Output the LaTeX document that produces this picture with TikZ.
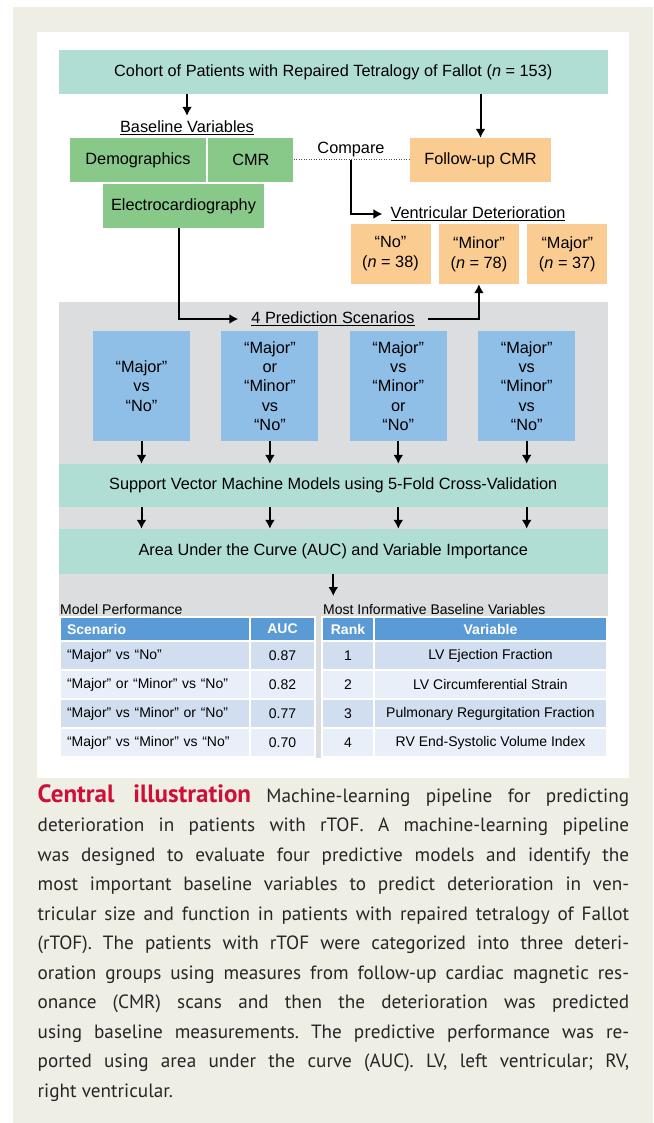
\documentclass[tikz,border=0pt]{standalone}
\usepackage{fontspec}
\setmainfont{Liberation Sans}
\newfontfamily\illfont{PT Sans}
\usepackage{xcolor}
\usetikzlibrary{arrows}
\usetikzlibrary{arrows.meta}
\usetikzlibrary{positioning}
\definecolor{pagebeige}{RGB}{239,238,228}
\definecolor{tealbox}{RGB}{176,222,212}
\definecolor{greenbox}{RGB}{136,201,138}
\definecolor{orangebox}{RGB}{251,204,145}
\definecolor{scengray}{RGB}{220,221,223}
\definecolor{bluebox}{RGB}{143,190,230}
\definecolor{tabhead}{RGB}{91,155,213}
\definecolor{rowdark}{RGB}{208,222,239}
\definecolor{rowlight}{RGB}{233,239,248}
\definecolor{illred}{RGB}{204,16,56}

\begin{document}
\begin{tikzpicture}[x=1pt, y=-1pt]

\tikzstyle{flowbox} = [inner sep=2pt, align=center, font=\fontsize{16.3}{19.3}\selectfont]
\tikzstyle{widebox} = [flowbox, fill=tealbox, minimum width=548.5pt, minimum height=44pt]
\tikzstyle{basebox} = [flowbox, fill=greenbox, minimum height=44pt]
\tikzstyle{outbox} = [flowbox, fill=orangebox, font=\fontsize{16.3}{20}\selectfont]
\tikzstyle{scenbox} = [flowbox, fill=bluebox, minimum width=97pt, minimum height=110pt]
\tikzstyle{headline} = [flowbox, inner ysep=5pt]
\tikzstyle{myarrow} = [->, >={Latex[length=9pt, width=10pt]}, line width=2pt]
\tikzstyle{cell} = [draw=white, line width=2pt, outer sep=0pt, inner sep=0pt,
minimum height=29pt, align=center, font=\fontsize{14}{16}\selectfont]
\tikzstyle{headcell} = [cell, fill=tabhead, text=white, minimum height=24pt,
font=\fontsize{14}{16}\selectfont\bfseries]

\useasboundingbox (0,0) rectangle (653,1123);
\fill[pagebeige] (12.7,7) rectangle (653,1123);
\fill[white] (36.7,32) rectangle (629,778);
\fill[scengray] (59,302) rectangle (607.5,758);

\node[widebox] (cohort) at (333.25,72) {Cohort of Patients with Repaired Tetralogy of Fallot (\textit{n} = 153)};

\node[headline] (baseline) at (187,128) {\underline{Baseline Variables}};
\node[basebox, minimum width=136pt] (demo) at (138,160) {Demographics};
\node[basebox, minimum width=85pt, right=2pt of demo] (cmr) {CMR};
\node[basebox, minimum width=161pt] (ecg) at (183.5,206) {Electrocardiography};
\node[outbox, minimum width=141pt, minimum height=44pt] (followup) at (480.5,160) {Follow-up CMR};

\node[flowbox] (compare) at (351,150) {Compare};
\coordinate (cmp) at (compare |- cmr.east);

\node[headline, inner xsep=8pt] (ventdet) at (478,214) {\underline{Ventricular Deterioration}};
\node[outbox, minimum width=80pt, minimum height=60pt] (no) at (390.5,254) {“No”\\(\textit{n} = 38)};
\node[outbox, minimum width=80pt, minimum height=60pt, right=8pt of no] (minor) {“Minor”\\(\textit{n} = 78)};
\node[outbox, minimum width=80pt, minimum height=60pt, right=8pt of minor] (major) {“Major”\\(\textit{n} = 37)};

\node[headline, inner xsep=13pt] (scenarios) at (333,319) {\underline{4 Prediction Scenarios}};
\node[scenbox] (s1) at (141.5,386) {“Major”\\vs\\“No”};
\node[scenbox, right=31pt of s1] (s2) {“Major”\\or\\“Minor”\\vs\\“No”};
\node[scenbox, right=31pt of s2] (s3) {“Major”\\vs\\“Minor”\\or\\“No”};
\node[scenbox, right=31pt of s3] (s4) {“Major”\\vs\\“Minor”\\vs\\“No”};

\node[widebox, minimum height=43pt] (svm) at (333.25,485.5) {Support Vector Machine Models using 5-Fold Cross-Validation};
\node[widebox, minimum height=45pt] (auc) at (333.25,551.5) {Area Under the Curve (AUC) and Variable Importance};
\coordinate (tabtop) at (333.25,596);

% model performance table
\node[anchor=west, inner sep=0pt, font=\fontsize{14}{16}\selectfont] (perftitle) at (60,609) {Model Performance};
\node[headcell, minimum width=190pt, text width=176pt, inner xsep=7pt, align=left] (hscen) at (155,629) {Scenario};
\node[headcell, minimum width=65pt, right=0pt of hscen] (hauc) {AUC};
\node[cell, fill=rowdark, minimum width=190pt, text width=176pt, inner xsep=7pt, align=left, below=0pt of hscen] (p1) {“Major” vs “No”};
\node[cell, fill=rowdark, minimum width=65pt, right=0pt of p1] (a1) {0.87};
\node[cell, fill=rowlight, minimum width=190pt, text width=176pt, inner xsep=7pt, align=left, below=0pt of p1] (p2) {“Major” or “Minor” vs “No”};
\node[cell, fill=rowlight, minimum width=65pt, right=0pt of p2] (a2) {0.82};
\node[cell, fill=rowdark, minimum width=190pt, text width=176pt, inner xsep=7pt, align=left, below=0pt of p2] (p3) {“Major” vs “Minor” or “No”};
\node[cell, fill=rowdark, minimum width=65pt, right=0pt of p3] (a3) {0.77};
\node[cell, fill=rowlight, minimum width=190pt, text width=176pt, inner xsep=7pt, align=left, below=0pt of p3] (p4) {“Major” vs “Minor” vs “No”};
\node[cell, fill=rowlight, minimum width=65pt, right=0pt of p4] (a4) {0.70};

% baseline variables table
\node[anchor=west, inner sep=0pt, font=\fontsize{14}{16}\selectfont] (vartitle) at (323,609) {Most Informative Baseline Variables};
\node[headcell, minimum width=52pt] (hrank) at (348,629) {Rank};
\node[headcell, minimum width=233pt, right=0pt of hrank] (hvar) {Variable};
\node[cell, fill=rowdark, minimum width=52pt, below=0pt of hrank] (r1) {1};
\node[cell, fill=rowdark, minimum width=233pt, right=0pt of r1] (v1) {LV Ejection Fraction};
\node[cell, fill=rowlight, minimum width=52pt, below=0pt of r1] (r2) {2};
\node[cell, fill=rowlight, minimum width=233pt, right=0pt of r2] (v2) {LV Circumferential Strain};
\node[cell, fill=rowdark, minimum width=52pt, below=0pt of r2] (r3) {3};
\node[cell, fill=rowdark, minimum width=233pt, right=0pt of r3] (v3) {Pulmonary Regurgitation Fraction};
\node[cell, fill=rowlight, minimum width=52pt, below=0pt of r3] (r4) {4};
\node[cell, fill=rowlight, minimum width=233pt, right=0pt of r4] (v4) {RV End-Systolic Volume Index};

% connectors
\draw[myarrow] (cohort.south -| baseline) -- (baseline.north);
\draw[myarrow] (cohort.south -| followup) -- (followup.north);
\draw[line width=1pt, dash pattern=on 1pt off 1.5pt, black!70] (cmr.east) -- (followup.west);
\draw[myarrow] (cmp) |- (ventdet.west);
\draw[myarrow] ([xshift=-4.5pt]ecg.south) |- (scenarios.west);
\draw[myarrow] (scenarios.east) -| (minor.south);

\draw[myarrow] (s1.south) -- (s1 |- svm.north);
\draw[myarrow] (s2.south) -- (s2 |- svm.north);
\draw[myarrow] (s3.south) -- (s3 |- svm.north);
\draw[myarrow] (s4.south) -- (s4 |- svm.north);

\draw[myarrow] (svm.south -| s1) -- (auc.north -| s1);
\draw[myarrow] (svm.south -| s2) -- (auc.north -| s2);
\draw[myarrow] (svm.south -| s3) -- (auc.north -| s3);
\draw[myarrow] (svm.south -| s4) -- (auc.north -| s4);

\draw[myarrow] (auc.south) -- (tabtop);

% caption
\node[anchor=north west, inner sep=0pt, text width=591.5pt, align=justify, text=black!85,
font=\illfont\fontsize{19.2}{29.5}\selectfont] (caption) at (37.5,784) {\tolerance=10000\hyphenpenalty=10000\frenchspacing
{\fontsize{25}{29.5}\selectfont\bfseries\color{illred}Central illustration} Machine-learning pipeline for predicting\linebreak
deterioration in patients with rTOF. A machine-learning pipeline\linebreak
was designed to evaluate four predictive models and identify the\linebreak
most important baseline variables to predict deterioration in ven-\linebreak
tricular size and function in patients with repaired tetralogy of Fallot\linebreak
(rTOF). The patients with rTOF were categorized into three deteri-\linebreak
oration groups using measures from follow-up cardiac magnetic res-\linebreak
onance (CMR) scans and then the deterioration was predicted\linebreak
using baseline measurements. The predictive performance was re-\linebreak
ported using area under the curve (AUC). LV, left ventricular; RV,\linebreak
right ventricular.};

\end{tikzpicture}
\end{document}
